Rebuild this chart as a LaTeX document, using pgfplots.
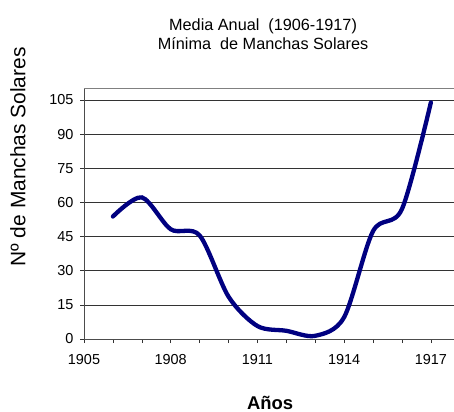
\documentclass[border=0pt]{standalone}
\usepackage{pgfplots}
\pgfplotsset{compat=1.18}
\usepackage{fontspec}
\setmainfont{Liberation Sans}
\definecolor{navyline}{RGB}{0,0,128}
\begin{document}
\begin{tikzpicture}
\path[use as bounding box] (-84bp,-73bp) rectangle (370bp,339bp);
\begin{axis}[
  scale only axis,
  width=370bp, height=250.4bp,
  xmin=1905, xmax=1917.8,
  ymin=0, ymax=110,
  xtick={1905,1908,1911,1914,1917},
  minor x tick num=2,
  ytick={0,15,...,105},
  axis x line*=bottom,
  axis y line*=left,
  axis line style={black!70, line width=0.8pt},
  tick align=outside,
  major tick length=4bp,
  minor tick length=4bp,
  tick style={black!80, line width=0.6pt},
  ymajorgrids,
  major grid style={black!80, line width=0.6pt},
  x tick label style={/pgf/number format/1000 sep={}, font=\fontsize{14.5}{16}\selectfont, yshift=-8bp},
  y tick label style={font=\fontsize{14.5}{16}\selectfont, xshift=-3bp},
  /pgf/number format/assume math mode=true,
  title={Media Anual\ \ (1906-1917)\\Mínima\ \ de Manchas Solares},
  title style={align=center, font=\fontsize{16.3}{19.5}\selectfont, at={(0.484,1)}, anchor=south, yshift=29bp},
  ylabel={Nº de Manchas Solares},
  ylabel style={font=\fontsize{21}{24}\selectfont, at={(-66bp,0.727)}, anchor=center, rotate=0},
  xlabel={\textbf{Años}},
  xlabel style={font=\fontsize{18.5}{20}\selectfont, at={(0.503,0)}, anchor=center, yshift=-64bp},
  clip=false,
]
\draw[black!50, line width=1.2pt] (rel axis cs:0,1) -- (rel axis cs:1,1);
\addplot[navyline, line width=4.3bp, smooth, tension=0.5, line cap=round] coordinates {
(1906,53.8) (1907,62.2) (1908,48.2) (1909,45.5) (1910,18.6) (1911,5.7)
(1912,3.6) (1913,1.4) (1914,9.6) (1915,47.4) (1916,57.1) (1917,103.9)
};
\end{axis}
\end{tikzpicture}
\end{document}
